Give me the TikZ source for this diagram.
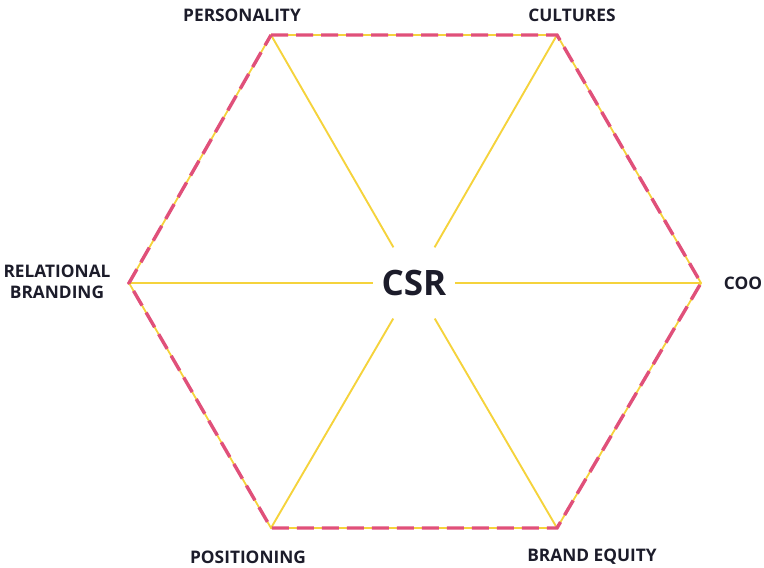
\documentclass[tikz,border=0pt]{standalone}
\usepackage{fontspec}
\setmainfont{Open Sans}
\definecolor{spoke}{HTML}{F5D33C}
\definecolor{rim}{HTML}{E0507A}
\definecolor{ink}{HTML}{1C1C2A}
\begin{document}
\begin{tikzpicture}[x=1pt,y=-1pt,
  lbl/.style={text=ink,font=\bfseries\fontsize{17.3}{19}\selectfont,align=center,inner sep=0pt},
  spokeline/.style={draw=spoke,line width=1.9pt},
  rimbase/.style={draw=spoke,line width=1.8pt,line join=miter},
  rimdash/.style={draw=rim,line width=3.4pt,dash pattern=on 17pt off 8pt,line join=miter}]
\useasboundingbox (0,0) rectangle (764,568);
% hexagon vertices
\coordinate (v1) at (271,35);
\coordinate (v2) at (557,35);
\coordinate (v3) at (701,283);
\coordinate (v4) at (557,528);
\coordinate (v5) at (271,528);
\coordinate (v6) at (129,283);
% centre label
\node[circle,minimum size=82pt,inner sep=0pt,text=ink,font=\bfseries\fontsize{35}{37}\selectfont] (csr) at (414,283) {CSR};
% spokes
\foreach \v in {v1,v2,v3,v4,v5,v6} \draw[spokeline] (\v) -- (csr);
% rim
\draw[rimbase] (v1) -- (v2) -- (v3) -- (v4) -- (v5) -- (v6) -- cycle;
\draw[rimdash] (v1) -- (v2) -- (v3) -- (v4) -- (v5) -- (v6) -- cycle;
% outer labels
\node[lbl] (personality) at (242,15) {PERSONALITY};
\node[lbl] (cultures) at (572,15) {CULTURES};
\node[lbl] (coo) at (743,283) {COO};
\node[lbl,font=\bfseries\fontsize{17.3}{21}\selectfont] (relational) at (57,282) {RELATIONAL\\BRANDING};
\node[lbl] (positioning) at (248,557) {POSITIONING};
\node[lbl] (equity) at (592,557) {BRAND EQUITY};
\end{tikzpicture}
\end{document}
